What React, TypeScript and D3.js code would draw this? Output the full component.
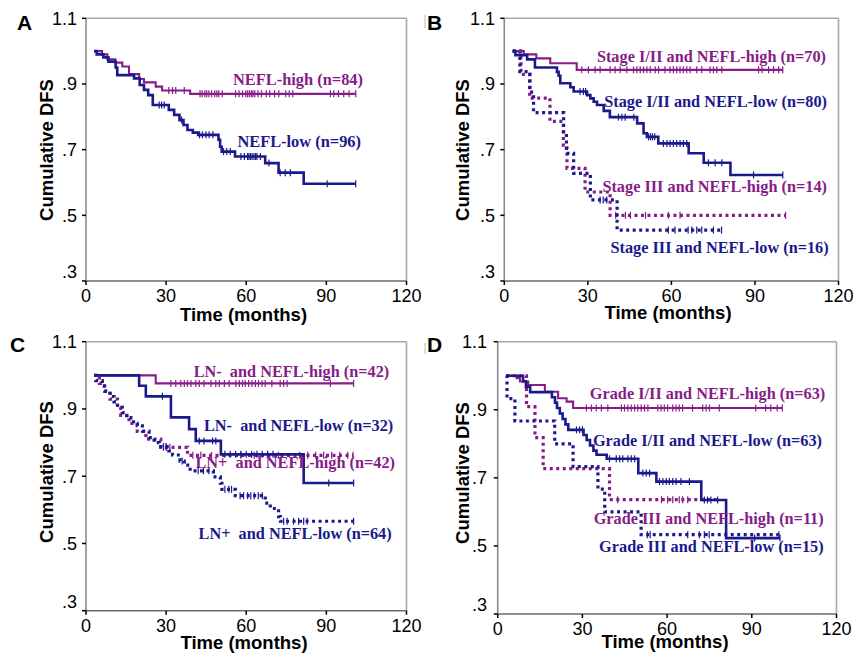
import React from "react";
import * as d3 from "d3";

// ---------- DATA ----------
const xTicks = [0, 30, 60, 90, 120];
const yTicks = [1.1, 0.9, 0.7, 0.5, 0.3];
const yTickLabels = ["1.1", ".9", ".7", ".5", ".3"];

// Panel A
const aHighT = [3, 6, 8, 11, 13.6, 16.1, 19.9, 21.7, 26.1, 28.5, 39];
const aHighS = [1.0, 0.99, 0.975, 0.965, 0.953, 0.93, 0.915, 0.905, 0.892, 0.88, 0.87];
const aHighEnd = 101;
const aHighC = [31, 32.4, 33.6, 36.8, 42.7, 43.5, 44.5, 45.2, 46, 47, 48.2, 49, 49.7, 51, 56, 57.3, 58.6, 59.8, 60.5, 61.2, 61.9, 62.5, 63.2, 64.4, 65.7, 67.5, 68.8, 70.6, 72.2, 74.8, 76.1, 77.4, 91.5, 92.8, 94.5, 96.5, 98.5, 101];

const aLowT = [3, 4, 6.5, 8.4, 11.1, 11.7, 18, 20.1, 21.7, 23.3, 25, 31, 33, 35, 36.5, 38, 40, 42, 49.6, 50.2, 50.8, 55.8, 67.1, 72.1, 81.5];
const aLowS = [1.0, 0.99, 0.981, 0.968, 0.95, 0.927, 0.917, 0.897, 0.882, 0.866, 0.836, 0.821, 0.806, 0.79, 0.775, 0.76, 0.752, 0.745, 0.73, 0.709, 0.694, 0.679, 0.659, 0.63, 0.596];
const aLowEnd = 101;
const aLowC = [27.4, 28.3, 29.3, 35.8, 42.5, 43.6, 44.9, 46.1, 47.5, 51.5, 52.7, 54, 58, 59.3, 60.5, 61, 61.6, 62.2, 62.9, 63.5, 64, 65.3, 68.5, 72.7, 74.6, 76.5, 90.3, 101];

// Panel B
const bHighT = [3, 7, 11.5, 16.5, 26];
const bHighS = [1.0, 0.99, 0.978, 0.963, 0.943];
const bHighEnd = 100;
const bHighC = [27.8, 30.2, 32.6, 34.4, 38, 39.8, 41.6, 44, 46.4, 47.6, 48.8, 50, 51.2, 52.4, 54.2, 55.4, 57.7, 59.5, 60.7, 61.9, 63.1, 64.3, 65.5, 66.7, 69.1, 70.9, 73.9, 75.1, 76.3, 78.1, 91.3, 92.5, 94.9, 96.7, 98.5, 100];

const bLowT = [3, 4, 8.2, 11, 18.9, 19.5, 20.1, 23.7, 24.9, 29.7, 30.9, 32.1, 33.3, 35.7, 37.9, 47.7, 50, 51.2, 55.3, 66.2, 71.6, 81.2];
const bLowS = [1.0, 0.988, 0.975, 0.95, 0.937, 0.925, 0.902, 0.89, 0.877, 0.866, 0.856, 0.846, 0.836, 0.818, 0.799, 0.78, 0.75, 0.739, 0.719, 0.689, 0.66, 0.623];
const bLowEnd = 100;
const bLowC = [27.2, 28.4, 29.2, 41, 42.2, 43.4, 46.5, 51.8, 52.5, 53.2, 54, 57.1, 58.4, 59.5, 60.7, 61.9, 63.1, 64.3, 65.5, 73.3, 75.7, 78.1, 89.5, 100];

const b3HighT = [3, 6, 9.1, 16.4, 21.2, 22.5, 29, 38];
const b3HighS = [1.0, 0.929, 0.857, 0.786, 0.714, 0.643, 0.571, 0.5];
const b3HighEnd = 101;
const b3HighC = [40, 43.5, 45.3, 50.7, 58.9, 63.1, 101];

const b3LowT = [3, 5.6, 9.2, 10.5, 21.3, 22.3, 24.9, 30.9, 40.5];
const b3LowS = [1.0, 0.9375, 0.875, 0.8125, 0.75, 0.689, 0.628, 0.547, 0.455];
const b3LowEnd = 78;
const b3LowC = [34.4, 35.5, 36.8, 58.9, 61.3, 66, 67.3, 69.1, 70.9, 75.1, 78];

// Panel C
const cHighT = [3, 26.1];
const cHighS = [1.0, 0.976];
const cHighEnd = 100.2;
const cHighC = [31.8, 33.6, 35.5, 36.8, 38, 39.3, 41.1, 42.4, 44.2, 46.8, 48.6, 49.9, 51.8, 53.6, 56.1, 57.4, 58.6, 59.6, 60.9, 62.1, 63.4, 64.6, 65.9, 67.1, 69.6, 72.7, 74, 75.3, 91.5, 100.2];

const cLowT = [3, 19.9, 22.4, 31.8, 38.6, 41.1, 50.5, 81.5];
const cLowS = [1.0, 0.969, 0.9375, 0.875, 0.84, 0.805, 0.765, 0.68];
const cLowEnd = 100.2;
const cLowC = [28.6, 42.4, 44.2, 47.4, 48.6, 52, 54, 56, 58, 60, 62, 64, 66, 68, 70, 90.9, 100.2];

const cPlusHighT = [3, 5, 7, 9, 11.8, 13, 16.1, 19.2, 22.4, 28, 38];
const cPlusHighS = [1.0, 0.976, 0.952, 0.929, 0.905, 0.881, 0.857, 0.833, 0.81, 0.786, 0.762];
const cPlusHighEnd = 100;
const cPlusHighC = [29, 30.1, 31.4, 40, 43, 47, 58, 63, 72, 80, 83, 86, 89, 92, 95, 98, 100];

const cPlusLowT = [3, 3.7, 6.1, 7.4, 9, 10.5, 11.8, 13.6, 15.2, 16.8, 19.2, 21.1, 23.6, 25.5, 27.4, 31, 32.4, 35.2, 36.8, 39, 47.7, 50.3, 50.9, 55.9, 67.1, 69, 72.1, 72.8];
const cPlusLowS = [1.0, 0.984, 0.968, 0.952, 0.937, 0.921, 0.905, 0.889, 0.874, 0.862, 0.85, 0.834, 0.815, 0.8, 0.788, 0.775, 0.763, 0.745, 0.733, 0.716, 0.698, 0.679, 0.661, 0.642, 0.62, 0.604, 0.58, 0.566];
const cPlusLowEnd = 100.2;
const cPlusLowC = [29, 30, 36, 42, 44, 46, 52, 53.5, 54.5, 57.7, 59, 60.5, 61.7, 63, 64.5, 66, 74, 75.3, 77.7, 79.6, 81.5, 82.8, 100.2];

// Panel D
const dHighT = [3, 6.7, 7.9, 10.8, 16.7, 21.4, 24.4, 26.7];
const dHighS = [1.0, 0.993, 0.983, 0.973, 0.953, 0.934, 0.924, 0.905];
const dHighEnd = 100.8;
const dHighC = [31.4, 33.2, 34.9, 36.7, 39, 43.8, 44.9, 46.1, 47.3, 48.5, 49.6, 50.8, 52, 53.2, 56.7, 57.9, 59, 60.2, 62, 63.2, 64.3, 65.5, 69, 72.6, 73.8, 75, 78.5, 91.4, 94.9, 96.7, 99, 100.8];

const dLowT = [3, 9, 10, 11.5, 19.2, 20.3, 21, 22, 23, 24, 25, 30.4, 31.5, 32.7, 33.9, 35, 38.6, 49.8, 56.2, 72.1, 80.9];
const dLowS = [1.0, 0.984, 0.968, 0.952, 0.937, 0.921, 0.905, 0.889, 0.873, 0.857, 0.841, 0.826, 0.811, 0.795, 0.78, 0.768, 0.756, 0.714, 0.689, 0.635, 0.523];
const dLowEnd = 100;
const dLowC = [27.9, 29, 30, 39.6, 42, 43.2, 44.3, 46.1, 47.3, 48.5, 51.4, 52.6, 53.8, 57.3, 58.5, 59.7, 60.8, 62, 63.2, 64.9, 67.9, 73.2, 74.3, 75.5, 77.9, 91, 100];

const d3HighT = [3, 10.2, 13.2, 16.1, 39.6];
const d3HighS = [1.0, 0.909, 0.818, 0.727, 0.636];
const d3HighEnd = 78;
const d3HighC = [42.5, 58, 60.2, 62, 64.3, 65.5, 67.3];

const d3LowT = [3, 3.3, 6.1, 20.2, 26.7, 35.5, 37.9, 50.8];
const d3LowS = [1.0, 0.933, 0.867, 0.8, 0.733, 0.667, 0.6, 0.533];
const d3LowEnd = 99.6;
const d3LowC = [53, 54, 67.3, 71.4, 73.2, 74.9, 99.6];

// ---------- STYLE / LAYOUT ----------
const PURPLE = "#871c87";
const BLUE = "#1a1a8c";
const SANS = "'Liberation Sans', Arial, sans-serif";
const SERIF = "'Liberation Serif', 'Times New Roman', serif";

type Curve = { t: number[]; s: number[]; end: number; c: number[]; color: string; dotted: boolean };
type Label = { text: string; x: number; y: number; color: string };
type Panel = {
  letter: string; lx: number; ly: number;
  x0: number; x1: number; y0: number; y1: number;
  tickRight: number; xLabelY: number; titleX: number; titleY: number; yTitleX: number; yTitleY: number;
  curves: Curve[]; labels: Label[]; labelSize: number;
};

const panels: Panel[] = [
  {
    letter: "A", lx: 17, ly: 30, x0: 86, x1: 406.5, y0: 18.3, y1: 281,
    tickRight: 77, xLabelY: 301.5, titleX: 243.5, titleY: 321, yTitleX: 46, yTitleY: 150, labelSize: 16.4,
    curves: [
      { t: aHighT, s: aHighS, end: aHighEnd, c: aHighC, color: PURPLE, dotted: false },
      { t: aLowT, s: aLowS, end: aLowEnd, c: aLowC, color: BLUE, dotted: false },
    ],
    labels: [
      { text: "NEFL-high (n=84)", x: 363, y: 80, color: PURPLE },
      { text: "NEFL-low (n=96)", x: 361, y: 142, color: BLUE },
    ],
  },
  {
    letter: "B", lx: 427, ly: 30, x0: 504.3, x1: 838.5, y0: 18.3, y1: 281,
    tickRight: 495, xLabelY: 301.5, titleX: 668, titleY: 319, yTitleX: 462, yTitleY: 150, labelSize: 16.3,
    curves: [
      { t: bHighT, s: bHighS, end: bHighEnd, c: bHighC, color: PURPLE, dotted: false },
      { t: bLowT, s: bLowS, end: bLowEnd, c: bLowC, color: BLUE, dotted: false },
      { t: b3HighT, s: b3HighS, end: b3HighEnd, c: b3HighC, color: PURPLE, dotted: true },
      { t: b3LowT, s: b3LowS, end: b3LowEnd, c: b3LowC, color: BLUE, dotted: true },
    ],
    labels: [
      { text: "Stage I/II and NEFL-high (n=70)", x: 826, y: 57.3, color: PURPLE },
      { text: "Stage I/II and NEFL-low (n=80)", x: 827, y: 101.7, color: BLUE },
      { text: "Stage III and NEFL-high (n=14)", x: 827, y: 186.7, color: PURPLE },
      { text: "Stage III and NEFL-low (n=16)", x: 828.7, y: 248.3, color: BLUE },
    ],
  },
  {
    letter: "C", lx: 10, ly: 351.7, x0: 86, x1: 406.5, y0: 341.7, y1: 610.7,
    tickRight: 77, xLabelY: 631.5, titleX: 244, titleY: 649, yTitleX: 46, yTitleY: 472, labelSize: 16.3,
    curves: [
      { t: cHighT, s: cHighS, end: cHighEnd, c: cHighC, color: PURPLE, dotted: false },
      { t: cLowT, s: cLowS, end: cLowEnd, c: cLowC, color: BLUE, dotted: false },
      { t: cPlusHighT, s: cPlusHighS, end: cPlusHighEnd, c: cPlusHighC, color: PURPLE, dotted: true },
      { t: cPlusLowT, s: cPlusLowS, end: cPlusLowEnd, c: cPlusLowC, color: BLUE, dotted: true },
    ],
    labels: [
      { text: "LN-\u00a0\u00a0and NEFL-high (n=42)", x: 389.3, y: 371.7, color: PURPLE },
      { text: "LN-\u00a0\u00a0and NEFL-low (n=32)", x: 393.3, y: 425.7, color: BLUE },
      { text: "LN+\u00a0\u00a0and NEFL-high (n=42)", x: 395, y: 463.3, color: PURPLE },
      { text: "LN+\u00a0\u00a0and NEFL-low (n=64)", x: 391.7, y: 534, color: BLUE },
    ],
  },
  {
    letter: "D", lx: 427, ly: 352, x0: 497.7, x1: 836.5, y0: 341.7, y1: 614,
    tickRight: 487, xLabelY: 634.8, titleX: 665, titleY: 648, yTitleX: 462, yTitleY: 473, labelSize: 16.3,
    curves: [
      { t: dHighT, s: dHighS, end: dHighEnd, c: dHighC, color: PURPLE, dotted: false },
      { t: dLowT, s: dLowS, end: dLowEnd, c: dLowC, color: BLUE, dotted: false },
      { t: d3HighT, s: d3HighS, end: d3HighEnd, c: d3HighC, color: PURPLE, dotted: true },
      { t: d3LowT, s: d3LowS, end: d3LowEnd, c: d3LowC, color: BLUE, dotted: true },
    ],
    labels: [
      { text: "Grade I/II and NEFL-high (n=63)", x: 825.3, y: 394, color: PURPLE },
      { text: "Grade I/II and NEFL-low (n=63)", x: 822, y: 440.7, color: BLUE },
      { text: "Grade III and NEFL-high (n=11)", x: 823.7, y: 519.3, color: PURPLE },
      { text: "Grade III and NEFL-low (n=15)", x: 823.7, y: 546.7, color: BLUE },
    ],
  },
];

function survAt(t: number[], s: number[], time: number): number {
  let v = s[0];
  for (let i = 0; i < t.length; i++) if (t[i] <= time) v = s[i];
  return v;
}

function PanelView({ p }: { p: Panel }) {
  const x = d3.scaleLinear().domain([0, 120]).range([p.x0, p.x1]);
  const y = d3.scaleLinear().domain([0.3, 1.1]).range([p.y1, p.y0]);
  const line = d3
    .line<[number, number]>()
    .x((d) => x(d[0]))
    .y((d) => y(d[1]))
    .curve(d3.curveStepAfter);
  const order = [...p.curves].sort((a, b) => Number(b.dotted) - Number(a.dotted));
  return (
    <g>
      <text x={p.lx} y={p.ly} fontFamily={SANS} fontWeight="bold" fontSize={21} fill="#000">
        {p.letter}
      </text>
      <line x1={p.x0} x2={p.x1} y1={p.y0} y2={p.y0} stroke="#a8a8a8" strokeWidth={1.6} />
      <line x1={p.x1} x2={p.x1} y1={p.y0} y2={p.y1} stroke="#a8a8a8" strokeWidth={1.6} />
      <line x1={p.x0} x2={p.x0} y1={p.y0} y2={p.y1} stroke="#8a8a8a" strokeWidth={1.6} />
      <line x1={p.x0} x2={p.x1} y1={p.y1} y2={p.y1} stroke="#6a6a6a" strokeWidth={1.6} />
      {yTicks.map((v, i) => (
        <g key={"y" + i}>
          <line x1={p.x0 - 4} x2={p.x0} y1={y(v)} y2={y(v)} stroke="#000" strokeWidth={1.5} />
          <text
            x={p.tickRight}
            y={y(v) + (i === yTicks.length - 1 ? -9 : 0)}
            dy="0.36em"
            textAnchor="end"
            fontFamily={SANS}
            fontSize={18}
            fill="#000"
          >
            {yTickLabels[i]}
          </text>
        </g>
      ))}
      {xTicks.map((v, i) => (
        <g key={"x" + i}>
          <line x1={x(v)} x2={x(v)} y1={p.y1} y2={p.y1 + 4} stroke="#000" strokeWidth={1.5} />
          <text x={x(v)} y={p.xLabelY} textAnchor="middle" fontFamily={SANS} fontSize={18} fill="#000">
            {v}
          </text>
        </g>
      ))}
      <text x={p.titleX} y={p.titleY} textAnchor="middle" fontFamily={SANS} fontWeight="bold" fontSize={18.5} fill="#000">
        Time (months)
      </text>
      <text
        transform={`translate(${p.yTitleX},${p.yTitleY}) rotate(-90)`}
        textAnchor="middle"
        dominantBaseline="central"
        fontFamily={SANS}
        fontWeight="bold"
        fontSize={18.5}
        fill="#000"
      >
        Cumulative DFS
      </text>
      {order.map((c, ci) => {
        const pts: [number, number][] = c.t.map((t, i) => [t, c.s[i]] as [number, number]);
        pts.push([c.end, c.s[c.s.length - 1]]);
        return (
          <g key={"c" + ci}>
            <path
              d={line(pts) || ""}
              fill="none"
              stroke={c.color}
              strokeWidth={c.dotted ? 3.2 : c.color === BLUE ? 2.6 : 2.1}
              strokeDasharray={c.dotted ? "3,3.5" : undefined}
            />
            {c.c.map((ct, k) => {
              const sv = survAt(c.t, c.s, ct);
              return (
                <line
                  key={k}
                  x1={x(ct)}
                  x2={x(ct)}
                  y1={y(sv) - 3.5}
                  y2={y(sv) + 3.5}
                  stroke={c.color}
                  strokeWidth={1.2}
                />
              );
            })}
          </g>
        );
      })}
      {p.labels.map((l, i) => (
        <text
          key={"l" + i}
          x={l.x}
          y={l.y + 5}
          textAnchor="end"
          fontFamily={SERIF}
          fontWeight="bold"
          fontSize={p.labelSize}
          fill={l.color}
        >
          {l.text}
        </text>
      ))}
    </g>
  );
}

export default function App() {
  return (
    <svg
      width={854}
      height={655}
      viewBox="0 0 854 655"
      style={{ position: "absolute", left: 0, top: 0, background: "#fff" }}
    >
      <rect x={0} y={0} width={854} height={655} fill="#fff" />
      <line x1={425} x2={425} y1={15} y2={28} stroke="#d0d0d0" strokeWidth={1.5} />
      <line x1={425} x2={425} y1={343} y2={354} stroke="#d0d0d0" strokeWidth={1.5} />
      {panels.map((p) => (
        <PanelView key={p.letter} p={p} />
      ))}
    </svg>
  );
}
